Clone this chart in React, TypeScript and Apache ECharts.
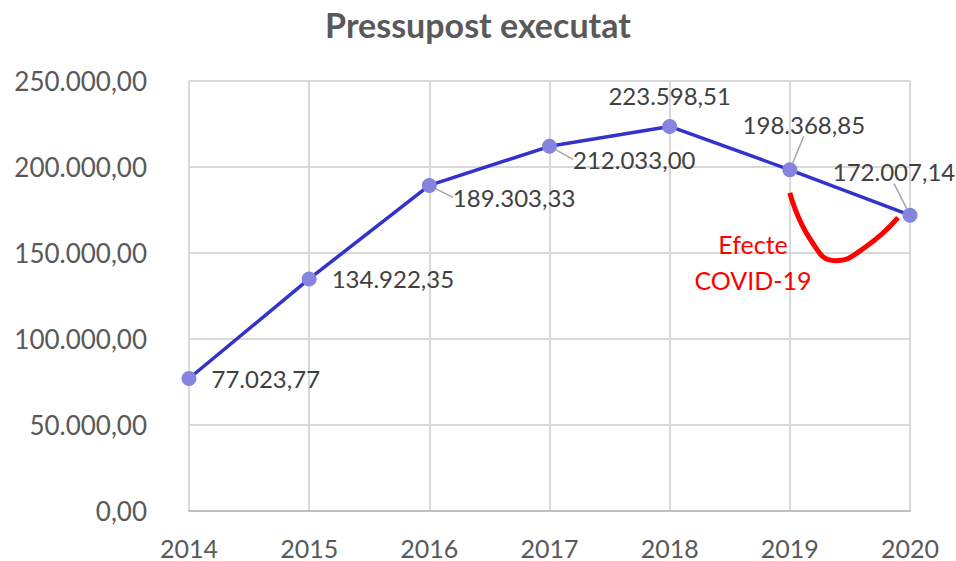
import React, { useEffect, useRef } from "react";
import * as echarts from "echarts";

const years = ["2014", "2015", "2016", "2017", "2018", "2019", "2020"];
const budget = [77023.77, 134922.35, 189303.33, 212033.0, 223598.51, 198368.85, 172007.14];
// hand-drawn "COVID effect" swoosh, in (year index, value) units
const covidCurve: [number, number][] = [
  [5.0, 185000],
  [5.17, 158000],
  [5.38, 145500],
  [5.63, 153500],
  [5.9, 170500],
];
const annotationLines = ["Efecte", "COVID-19"];
const titleText = "Pressupost executat";

const FONT = "Lato, 'Noto Sans', sans-serif";

function fmt(v: number): string {
  const fixed = v.toFixed(2);
  const [intPart, dec] = fixed.split(".");
  const withDots = intPart.replace(/\B(?=(\d{3})+(?!\d))/g, ".");
  return withDots + "," + dec;
}

// label placement per point: [position, distance, dx, dy, leader line]
const labelPlacement: [string, number, number, number, boolean][] = [
  ["right", 15, 0, 0, false],
  ["right", 15, 0, 0, false],
  ["right", 5, 11, 12, true],
  ["right", 5, 11, 13, true],
  ["top", 11, 0, 0, false],
  ["top", 5, 14, -21, true],
  ["top", 5, -16, -19, true],
];

export default function App() {
  const ref = useRef<HTMLDivElement>(null);
  useEffect(() => {
    if (!ref.current) return;
    const chart = echarts.init(ref.current, undefined, { renderer: "svg" });
    const data = budget.map((v, i) => ({
      value: v,
      label: { position: labelPlacement[i][0], distance: labelPlacement[i][1] },
      labelLine: { show: labelPlacement[i][4] },
    }));
    chart.setOption({
      animation: false,
      backgroundColor: "#ffffff",
      title: {
        text: titleText,
        left: "center",
        top: 2,
        textStyle: { fontFamily: FONT, fontSize: 34, fontWeight: "bold", color: "#595959" },
      },
      grid: { left: 189, right: 46, top: 81, bottom: 50, containLabel: false },
      xAxis: [
        {
          type: "category",
          data: years,
          boundaryGap: false,
          axisLine: { show: true, lineStyle: { color: "#bfbfbf", width: 2 } },
          axisTick: { show: false },
          axisLabel: { color: "#595959", fontFamily: FONT, fontSize: 25, margin: 24 },
          splitLine: { show: true, lineStyle: { color: "#d9d9d9", width: 2 } },
        },
        {
          type: "value",
          min: 0,
          max: 6,
          show: false,
          position: "bottom",
        },
      ],
      yAxis: {
        type: "value",
        min: 0,
        max: 250000,
        interval: 50000,
        axisLine: { show: false },
        axisTick: { show: false },
        axisLabel: {
          color: "#595959",
          fontFamily: FONT,
          fontSize: 26,
          margin: 42,
          formatter: (v: number) => fmt(v),
        },
        splitLine: { show: true, lineStyle: { color: "#d9d9d9", width: 2 } },
      },
      series: [
        {
          type: "line",
          data,
          xAxisIndex: 0,
          symbol: "circle",
          symbolSize: 15,
          lineStyle: { color: "#3333cc", width: 3.5 },
          itemStyle: { color: "#8585e0" },
          label: {
            show: true,
            color: "#404040",
            fontFamily: FONT,
            fontSize: 24,
            formatter: (p: any) => fmt(p.value),
          },
          labelLine: { show: false, lineStyle: { color: "#a6a6a6", width: 1.5 } },
          labelLayout: (p: any) => {
            const pl = labelPlacement[p.dataIndex];
            return { dx: pl[2], dy: pl[3] };
          },
          z: 3,
        },
        {
          type: "line",
          xAxisIndex: 1,
          data: covidCurve,
          smooth: true,
          symbol: "none",
          lineStyle: { color: "#ff0000", width: 5 },
          silent: true,
          z: 2,
        },
      ],
      graphic: annotationLines.map((t, i) => ({
        type: "text",
        x: 753,
        y: 244 + i * 36,
        z: 10,
        style: {
          text: t,
          fill: "#ff0000",
          font: `25px ${FONT}`,
          textAlign: "center",
          textVerticalAlign: "middle",
        },
      })),
    });
    return () => chart.dispose();
  }, []);
  return (
    <div
      ref={ref}
      style={{ position: "absolute", left: 0, top: 0, width: 956, height: 561 }}
    />
  );
}
